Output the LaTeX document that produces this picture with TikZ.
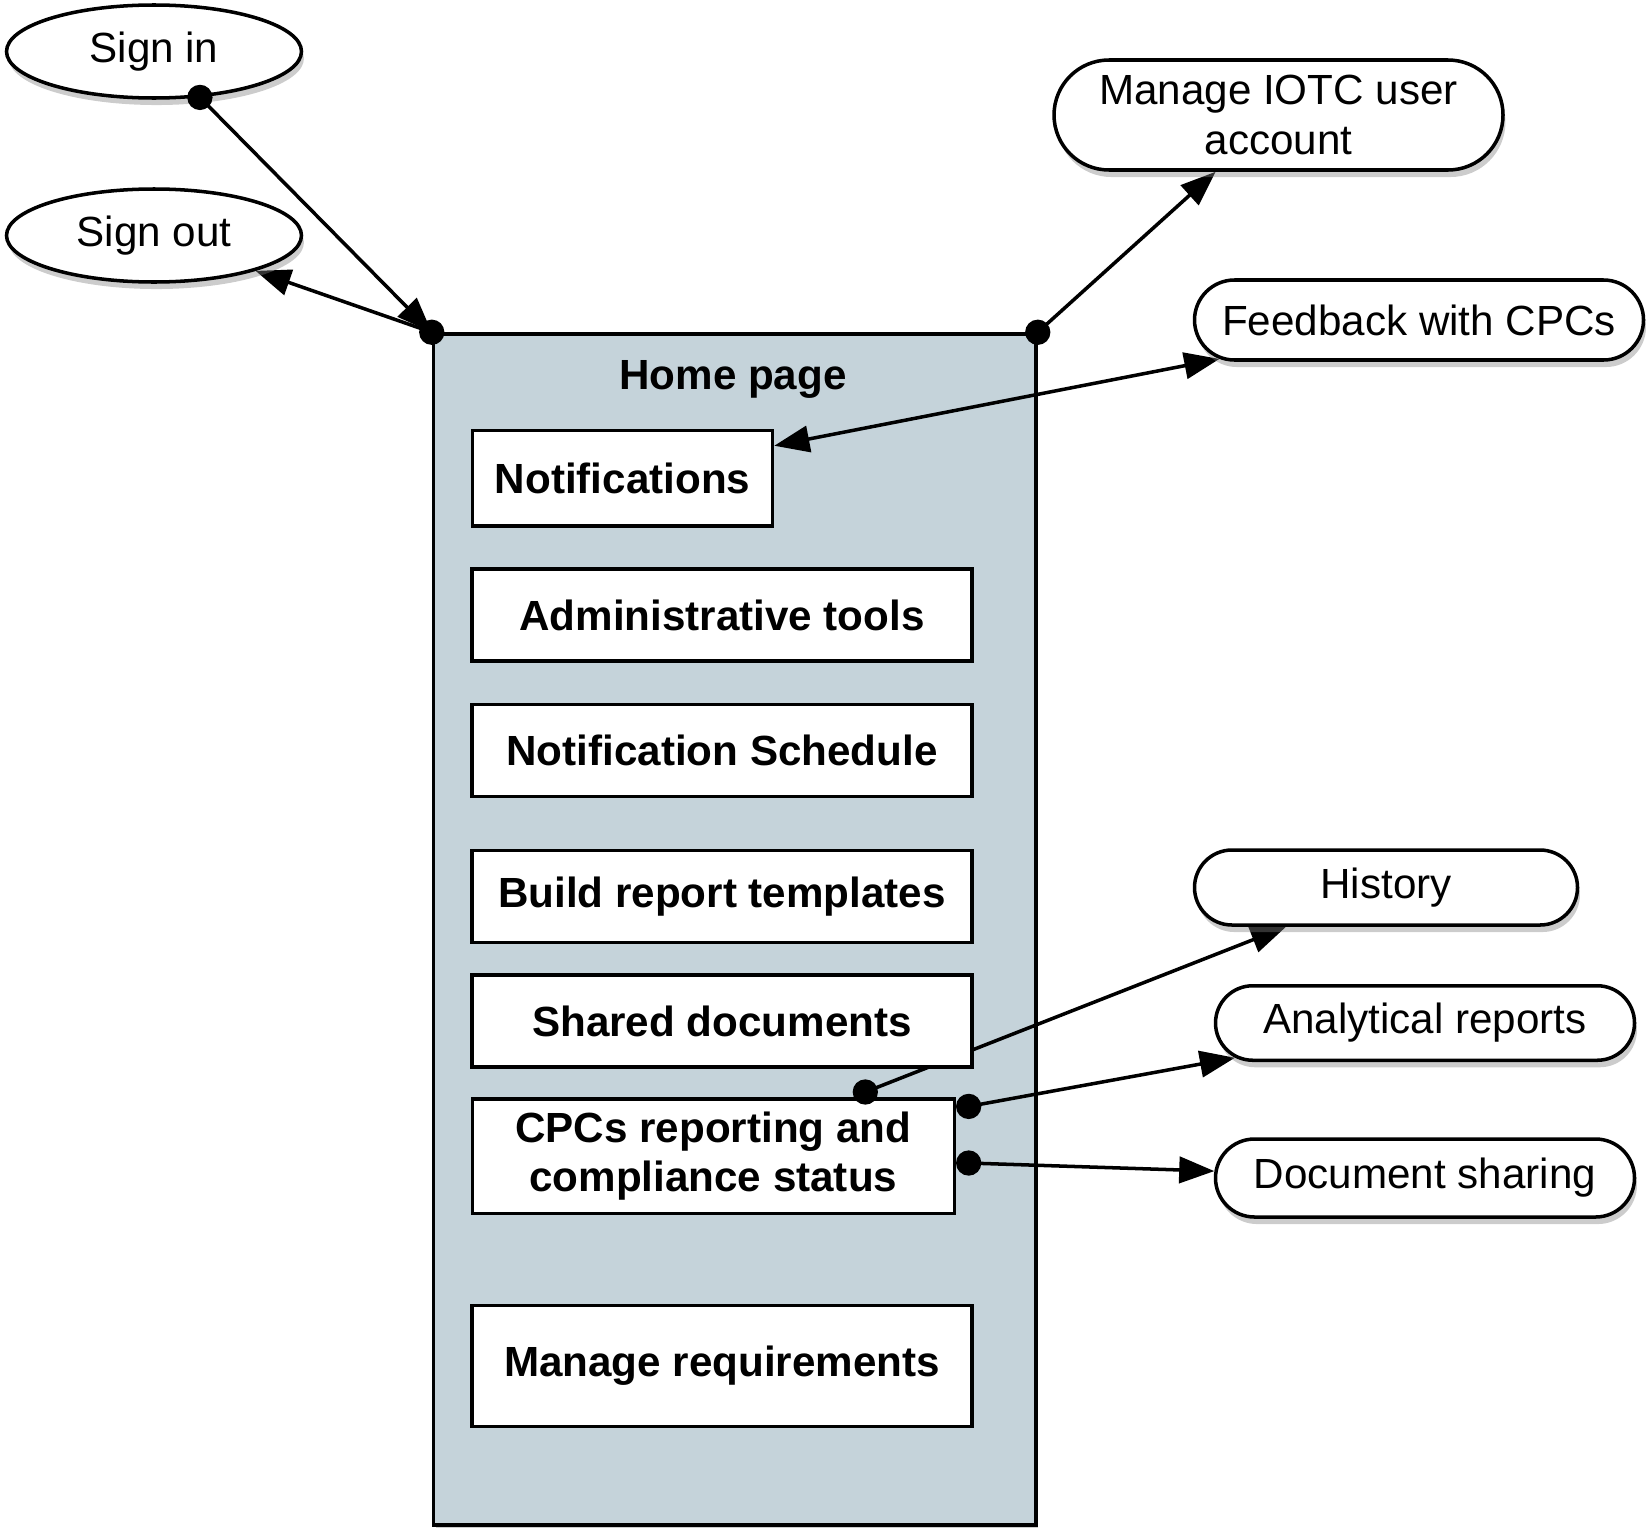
\documentclass[tikz,border=0pt]{standalone}
\usepackage{fontspec}
\setmainfont{Liberation Sans}
\usetikzlibrary{calc,positioning,shapes,arrows.meta,shadows,backgrounds}
\pgfdeclarelayer{bg}
\pgfdeclarelayer{links}
\pgfsetlayers{bg,links,main}
\definecolor{homegrey}{RGB}{197,211,218}

\begin{document}
\begin{tikzpicture}[font=\fontsize{12}{14}\selectfont]
\tikzstyle{softshadow}=[drop shadow={shadow xshift=0.7pt, shadow yshift=-2pt, opacity=0.4}]
\tikzstyle{oval}=[ellipse, draw, line width=1pt, fill=white, inner sep=0pt,
                  minimum width=2.95cm, minimum height=0.93cm, softshadow]
\tikzstyle{pill}=[rounded rectangle, draw, line width=1pt, fill=white, inner sep=0pt,
                  align=center, softshadow]
\tikzstyle{menuitem}=[rectangle, draw, line width=1pt, fill=white, inner sep=0pt,
                      font=\fontsize{12}{14}\selectfont\bfseries, align=center,
                      minimum width=5cm, minimum height=0.92cm]
\tikzstyle{homebox}=[rectangle, draw, line width=1pt, fill=homegrey, inner sep=0pt,
                     minimum width=6.025cm, minimum height=11.91cm, softshadow]
\tikzstyle{conn}=[line width=1pt, -{Triangle[length=10pt,width=7.5pt]}]
\tikzstyle{conn2}=[line width=1pt, {Triangle[length=10pt,width=7.5pt]}-{Triangle[length=10pt,width=7.5pt]}]
\useasboundingbox (0,0) rectangle (16.46,-15.27);

\begin{pgfonlayer}{bg}
\node[homebox] (home) at (7.3475,-9.295) {};
\end{pgfonlayer}
\node[font=\fontsize{12}{14}\selectfont\bfseries] (htitle) at (7.33,-3.79) {Home page};

% menu of the home page
\node[menuitem, minimum width=3.0cm, minimum height=0.955cm] (notif) at (6.225,-4.78) {Notifications};
\node[menuitem] (admin) at (7.22,-6.15) {Administrative tools};
\node[menuitem] (sched) at (7.22,-7.505) {Notification Schedule};
\node[menuitem] (build) at (7.22,-8.965) {Build report templates};
\node[menuitem] (shared) at (7.22,-10.21) {Shared documents};
\node[menuitem, minimum width=4.82cm, minimum height=1.145cm] (cpcs) at (7.133,-11.56) {CPCs reporting and\\compliance status};
\node[menuitem, minimum height=1.207cm] (manreq) at (7.22,-13.66) {Manage requirements};

% actions round it
\node[oval] (signin) at (1.54,-0.515) {Sign in};
\node[oval] (signout) at (1.54,-2.355) {Sign out};
\node[pill, minimum width=4.49cm, minimum height=1.10cm] (iotc) at (12.785,-1.15) {Manage IOTC user\\account};
\node[pill, minimum width=4.49cm, minimum height=0.80cm] (feedback) at (14.19,-3.20) {Feedback with CPCs};
\node[pill, minimum width=3.83cm, minimum height=0.75cm] (history) at (13.86,-8.875) {History};
\node[pill, minimum width=4.19cm, minimum height=0.745cm] (analytic) at (14.25,-10.23) {Analytical reports};
\node[pill, minimum width=4.19cm, minimum height=0.78cm] (docshare) at (14.25,-11.78) {Document sharing};

\coordinate (pin) at (signin.-45);
\coordinate (phist) at ([shift={(1.52,0.05)}]cpcs.north);
\coordinate (pana) at ([shift={(0.126,0.496)}]cpcs.east);
\coordinate (pdoc) at ([shift={(0.126,-0.07)}]cpcs.east);

\begin{pgfonlayer}{links}
\draw[conn] (pin) -- (home.north west);
\draw[conn] (home.north west) -- (signout);
\draw[conn] (home.north east) -- (iotc);
\draw[conn2] (notif.12) -- (feedback);
\draw[conn] (phist) -- (history);
\draw[conn] (pana) -- (analytic);
\draw[conn] (pdoc) -- (docshare);
\end{pgfonlayer}

\foreach \p in {pin, home.north west, home.north east, phist, pana, pdoc}
  \fill (\p) circle (3.6pt);
\end{tikzpicture}
\end{document}
